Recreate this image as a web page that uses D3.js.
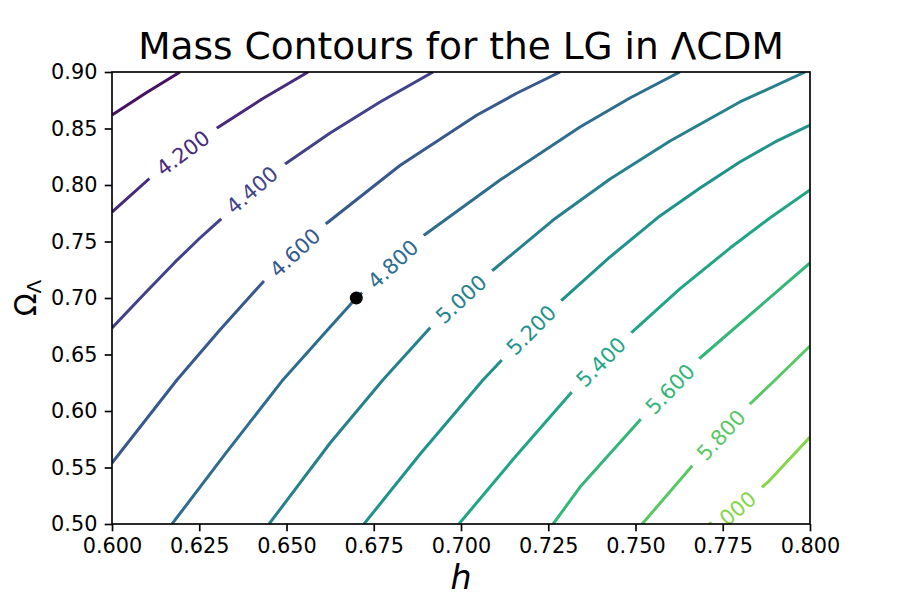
<!DOCTYPE html>
<html>
<head>
<meta charset="utf-8">
<script src="https://cdn.jsdelivr.net/npm/d3@7"></script>
<style>
  body { margin: 0; background: #fff; }
  svg { font-family: "DejaVu Sans", sans-serif; }
</style>
</head>
<body>
<div id="chart"></div>
<script>
// contour levels (mass, 10^12 Msun) and the traced lines, [h, Omega_Lambda]
var levels = [4.0, 4.2, 4.4, 4.6, 4.8, 5.0, 5.2, 5.4, 5.6, 5.8, 6.0];

var line40 = [[0.6, 0.862], [0.6097, 0.8814], [0.6195, 0.9]];
var line42 = [[0.6, 0.7761], [0.6109, 0.8062], [0.6301, 0.8504], [0.6430, 0.8761], [0.6562, 0.9]];
var line44 = [[0.6, 0.6735], [0.6095, 0.7044], [0.6181, 0.7319], [0.6252, 0.7531], [0.6309, 0.7690],
              [0.6496, 0.8186], [0.6625, 0.8460], [0.6768, 0.8735], [0.6920, 0.9]];
var line46 = [[0.6, 0.5540], [0.6186, 0.6274], [0.6309, 0.6717], [0.6433, 0.7142], [0.6616, 0.7664],
              [0.6825, 0.8173], [0.7046, 0.8619], [0.7161, 0.8814], [0.7284, 0.9]];
var line48 = [[0.6172, 0.5], [0.6324, 0.5619], [0.6487, 0.6265], [0.6625, 0.6743], [0.67, 0.70],
              [0.6891, 0.7549], [0.7112, 0.8044], [0.7341, 0.8513], [0.7484, 0.8770], [0.7627, 0.9]];
var line50 = [[0.6450, 0.5], [0.6625, 0.5717], [0.6776, 0.6274], [0.6911, 0.6735], [0.7092, 0.7248],
              [0.7264, 0.7690], [0.7427, 0.8053], [0.7599, 0.8389], [0.7799, 0.8735], [0.7986, 0.9]];
var line52 = [[0.6722, 0.5], [0.6883, 0.5619], [0.7063, 0.6274], [0.7117, 0.6451], [0.7289, 0.6982],
              [0.7427, 0.7363], [0.7570, 0.7726], [0.7685, 0.7973], [0.7799, 0.8204], [0.7900, 0.8381],
              [0.8, 0.8531]];
var line54 = [[0.6994, 0.5], [0.7155, 0.5593], [0.7315, 0.6159], [0.7490, 0.6699], [0.7627, 0.7080],
              [0.7771, 0.7442], [0.7885, 0.7708], [0.8, 0.7956]];
var line56 = [[0.7264, 0.5], [0.7341, 0.5327], [0.7513, 0.5920], [0.7685, 0.6469], [0.7857, 0.6929],
              [0.8, 0.7310]];
var line58 = [[0.7519, 0.5], [0.7662, 0.5513], [0.7828, 0.6062], [0.7900, 0.6274], [0.8, 0.6575]];
var line60 = [[0.7739, 0.5], [0.7880, 0.5372], [0.8, 0.5770]];

var contourLines = [line40, line42, line44, line46, line48, line50, line52, line54, line56, line58, line60];

// where the inline labels sit (none on the 4.0 line)
var labelPoints = [null, [0.6203, 0.8283], [0.6401, 0.7956], [0.6524, 0.7403], [0.6805, 0.7301],
                   [0.7000, 0.6991], [0.7201, 0.6717], [0.7401, 0.6434], [0.7599, 0.6195],
                   [0.7745, 0.5788], [0.7771, 0.5081]];

var marker = [0.67, 0.70];

var xTicks = [0.600, 0.625, 0.650, 0.675, 0.700, 0.725, 0.750, 0.775, 0.800];
var yTicks = [0.50, 0.55, 0.60, 0.65, 0.70, 0.75, 0.80, 0.85, 0.90];

var svgWidth = 900;
var svgHeight = 600;
var margin = { top: 72, right: 90, bottom: 76, left: 112 };
var width = svgWidth - margin.left - margin.right;
var height = svgHeight - margin.top - margin.bottom;

var svg = d3.select("#chart")
  .append("svg")
  .attr("width", svgWidth)
  .attr("height", svgHeight);

svg.append("defs").append("clipPath")
  .attr("id", "plotClip")
  .append("rect")
  .attr("width", width)
  .attr("height", height);

var chartGroup = svg.append("g")
  .attr("transform", `translate(${margin.left}, ${margin.top})`);

var xScale = d3.scaleLinear().domain([0.6, 0.8]).range([0, width]);
var yScale = d3.scaleLinear().domain([0.5, 0.9]).range([height, 0]);

// viridis, as matplotlib mapped the levels
function levelColor(level) {
  return d3.interpolateViridis(0.04 + (level - 4.0) / 0.2 * 0.078);
}

var line = d3.line()
  .x(d => xScale(d[0]))
  .y(d => yScale(d[1]));

var plotGroup = chartGroup.append("g").attr("clip-path", "url(#plotClip)");

plotGroup.selectAll(".contour")
  .data(contourLines)
  .enter()
  .append("path")
  .attr("class", "contour")
  .attr("d", line)
  .attr("fill", "none")
  .attr("stroke", (d, i) => levelColor(levels[i]))
  .attr("stroke-width", 3)
  .attr("stroke-linejoin", "round");

// inline labels with a white gap behind them
levels.forEach(function(level, i) {
  var p = labelPoints[i];
  if (!p) return;
  var pts = contourLines[i];
  var px = xScale(p[0]), py = yScale(p[1]);
  var seg = 0;
  for (var k = 0; k < pts.length - 1; k++) {
    if (xScale(pts[k][0]) <= px && xScale(pts[k + 1][0]) >= px) { seg = k; break; }
  }
  var a = pts[seg], b = pts[seg + 1];
  var angle = Math.atan2(yScale(b[1]) - yScale(a[1]), xScale(b[0]) - xScale(a[0])) * 180 / Math.PI;

  var g = plotGroup.append("g")
    .attr("transform", `translate(${px}, ${py}) rotate(${angle})`);
  var gap = g.append("rect").attr("fill", "#fff");
  var txt = g.append("text")
    .attr("text-anchor", "middle")
    .attr("dy", "0.36em")
    .attr("font-size", 21)
    .attr("fill", levelColor(level))
    .text(level.toFixed(3));
  var tw = txt.node().getComputedTextLength();
  gap.attr("x", -tw / 2 - 12).attr("y", -9).attr("width", tw + 24).attr("height", 18);
});

chartGroup.append("circle")
  .attr("cx", xScale(marker[0]))
  .attr("cy", yScale(marker[1]))
  .attr("r", 6.5)
  .attr("fill", "#000");

// axes
var bottomAxis = d3.axisBottom(xScale)
  .tickValues(xTicks)
  .tickFormat(d3.format(".3f"))
  .tickSize(7.3)
  .tickPadding(7.3);
var leftAxis = d3.axisLeft(yScale)
  .tickValues(yTicks)
  .tickFormat(d3.format(".2f"))
  .tickSize(7.3)
  .tickPadding(7.3);

var xAxisG = chartGroup.append("g")
  .attr("transform", `translate(0, ${height})`)
  .call(bottomAxis);
var yAxisG = chartGroup.append("g")
  .call(leftAxis);

[xAxisG, yAxisG].forEach(function(g) {
  g.select(".domain").remove();
  g.selectAll(".tick line").attr("stroke", "#000").attr("stroke-width", 1.67);
  g.selectAll(".tick text")
    .attr("fill", "#000")
    .attr("font-size", 20.8)
    .attr("font-family", "DejaVu Sans, sans-serif");
});

chartGroup.append("rect")
  .attr("width", width)
  .attr("height", height)
  .attr("fill", "none")
  .attr("stroke", "#000")
  .attr("stroke-width", 1.67);

// titles
svg.append("text")
  .attr("x", margin.left + width / 2)
  .attr("y", 59)
  .attr("text-anchor", "middle")
  .attr("font-size", 37.5)
  .text("Mass Contours for the LG in ΛCDM");

svg.append("text")
  .attr("x", margin.left + width / 2)
  .attr("y", 589)
  .attr("text-anchor", "middle")
  .attr("font-size", 33.3)
  .attr("font-style", "italic")
  .text("h");

var yLabel = svg.append("text")
  .attr("transform", `translate(36, ${margin.top + height / 2}) rotate(-90)`)
  .attr("text-anchor", "middle")
  .attr("font-size", 30);
yLabel.append("tspan").text("Ω");
yLabel.append("tspan").attr("font-size", 20).attr("dy", 5).text("Λ");
</script>
</body>
</html>
